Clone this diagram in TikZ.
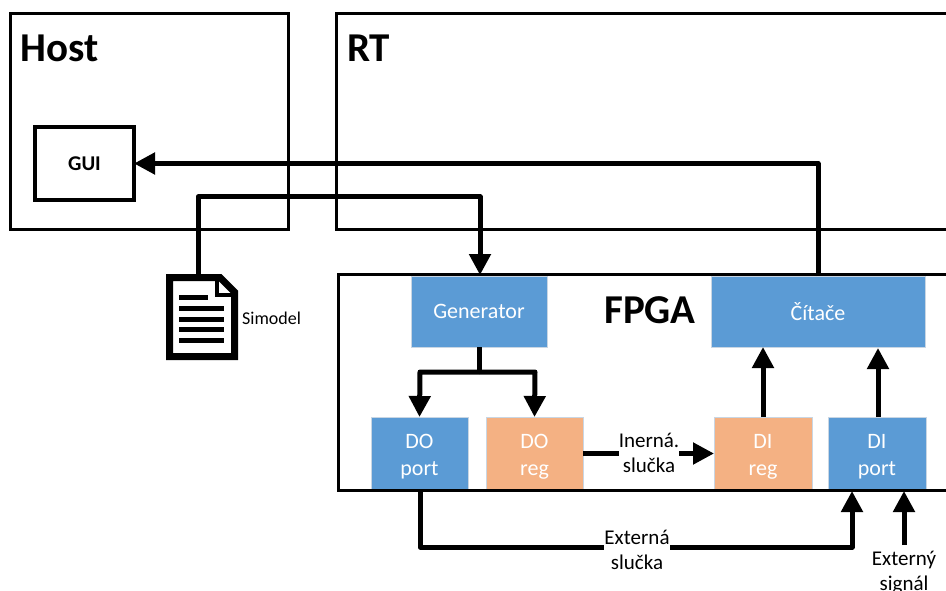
\documentclass[tikz,border=0pt]{standalone}
\usepackage{fontspec}
\setmainfont{Carlito}
\usetikzlibrary{arrows.meta}
\definecolor{bluebox}{HTML}{5B9BD5}
\definecolor{orangebox}{HTML}{F4B183}
\definecolor{edgeb}{HTML}{C9D6E3}
\newcommand{\toplift}{\rule{0pt}{21pt}}
\tikzset{x=1pt,y=-1pt,
 frame/.style={draw=black,line width=3pt,fill=none,line join=miter},
 conn/.style={draw=black,line width=5pt,line join=round,-{Triangle[length=21pt,width=21pt]}},
 plainline/.style={draw=black,line width=5pt},
 fblock/.style={draw=edgeb,line width=1pt,fill=#1,text=white,font=\fontsize{22}{27}\selectfont,align=center,inner sep=0pt,outer sep=0pt,anchor=north west},
 lbl/.style={font=\fontsize{21}{25}\selectfont,align=center,inner sep=0pt},
 big/.style={font=\bfseries\fontsize{41}{44}\selectfont,inner sep=0pt}}
\begin{document}
\begin{tikzpicture}
\useasboundingbox (0,0) rectangle (946,591);
\fill[white] (0,0) rectangle (946,591);
\node[frame,minimum width=278pt,minimum height=216pt,anchor=north west,outer sep=0pt] (host) at (10,14) {};
\draw[frame] (946,14) -- (336,14) -- (336,230) -- (946,230);
\node[big,anchor=west] (hostl) at (20,48) {Host};
\node[big,anchor=west] (rtl) at (347,48) {RT};
\node[big,anchor=center] (fpgal) at (650,310) {FPGA};
\node[draw=black,line width=3.2pt,fill=white,minimum width=99pt,minimum height=73pt,anchor=north west,outer sep=0pt,font=\bfseries\fontsize{21}{25}\selectfont] (gui) at (35,127) {GUI};
\node[fblock=bluebox,minimum width=136pt,minimum height=71pt] (gen) at (411,276) {Generator};
\node[fblock=bluebox,minimum width=214pt,minimum height=71pt] (cit) at (711,276) {Čítače};
\node[fblock=bluebox,minimum width=97pt,minimum height=73pt] (dop) at (371,417) {\toplift DO\\port};
\node[fblock=orangebox,minimum width=97pt,minimum height=73pt] (dor) at (486,417) {\toplift DO\\reg};
\node[fblock=orangebox,minimum width=98pt,minimum height=73pt] (dir) at (714,417) {\toplift DI\\reg};
\node[fblock=bluebox,minimum width=98pt,minimum height=73pt] (dip) at (828,417) {\toplift DI\\port};
\draw[frame] (946,274) -- (338,274) -- (338,490) -- (946,490);
% document icon
\node[minimum width=72pt,minimum height=86pt,inner sep=0pt,outer sep=0pt,anchor=north west] (sim) at (166,274) {};
\draw[line width=7pt,fill=white,line join=miter] (169.5,277.5) -- (220,277.5) -- (234.5,292) -- (234.5,356.5) -- (169.5,356.5) -- cycle;
\draw[line width=4.5pt] (217,279) -- (217,295) -- (233,295);
\foreach \y/\xe in {297/208,308/224,319/224,329/224,340/224} \draw[line width=5pt] (179,\y) -- (\xe,\y);
\node[font=\fontsize{18}{22}\selectfont,inner sep=0pt,anchor=west] (siml) at (242,318) {Simodel};
% connectors
\draw[conn] (cit.north) -- (cit.north |- gui.east) -- (gui.east);
\coordinate (simtop) at (198,274);
\coordinate (gentop) at (480,275);
\draw[conn] (simtop) -- (198,197) -- (480,197) -- (gentop);
\coordinate (split) at (479,372);
\draw[plainline] (gen.south -| split) -- (split);
\draw[conn] (split) -- (420,372) -- (dop.north);
\draw[conn] (split) -- (535,372) -- (dor.north);
\draw[conn] (dir.north) -- (cit.south -| dir.north);
\draw[conn] (878,417) -- (878,348);
\draw[conn] (dor.east) -- (dir.west);
\node[lbl,fill=white,minimum width=60pt] (inl) at (649,453) {Inerná.\\slučka};
\coordinate (extstart) at (420,489);
\coordinate (dipin) at (852,491);
\draw[conn] (extstart) -- (420,547) -- (852,547) -- (dipin);
\node[lbl,fill=white,minimum width=66pt] (exl) at (637,550) {Externá\\slučka};
\node[lbl,anchor=north] (extl) at (904,551) {Externý\\signál};
\coordinate (extbase) at (904,545);
\coordinate (extin) at (904,491);
\draw[conn] (extbase) -- (extin);
\end{tikzpicture}
\end{document}
